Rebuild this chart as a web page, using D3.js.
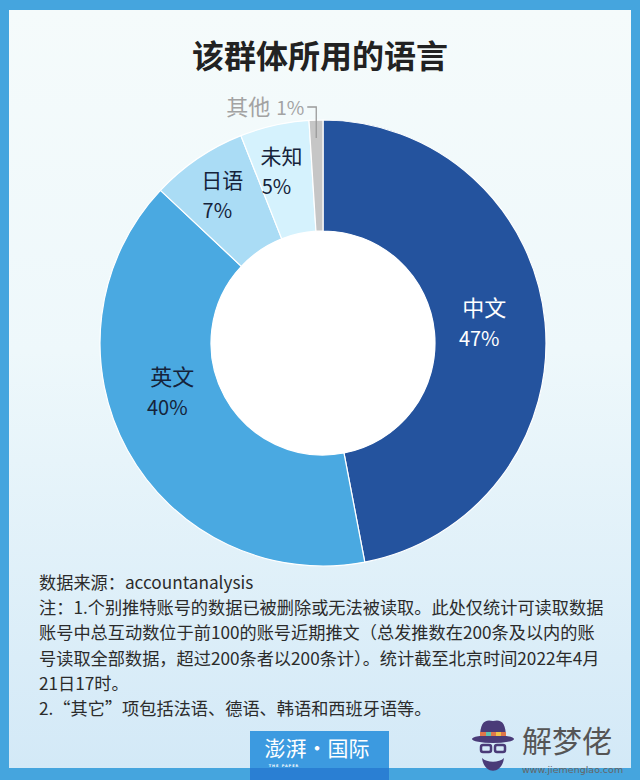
<!DOCTYPE html>
<html><head><meta charset="utf-8">
<script src="https://cdn.jsdelivr.net/npm/d3@7/dist/d3.min.js"></script>
<style>html,body{margin:0;padding:0;background:#fff;}svg{display:block;}</style>
</head><body>
<script>
const title = "该群体所用的语言";
const categories = ["中文", "英文", "日语", "未知", "其他"];
const values = [47, 40, 7, 5, 1];
const valueLabels = ["47%", "40%", "7%", "5%", "1%"];
const colors = ["#24539e", "#4aa9e1", "#aadcf5", "#d5f2fd", "#c6c6c6"];
const notes = [
  "数据来源：accountanalysis",
  "注：1.个别推特账号的数据已被删除或无法被读取。此处仅统计可读取数据",
  "账号中总互动数位于前100的账号近期推文（总发推数在200条及以内的账",
  "号读取全部数据，超过200条者以200条计）。统计截至北京时间2022年4月",
  "21日17时。",
  "2.“其它”项包括法语、德语、韩语和西班牙语等。"
];

const W = 640, H = 780;
const font = "'Noto Sans CJK SC','Noto Sans',sans-serif";
const svg = d3.select("body").append("svg").attr("width", W).attr("height", H);
const defs = svg.append("defs");
const g1 = defs.append("linearGradient").attr("id","bg").attr("x1",0).attr("y1",0).attr("x2",0).attr("y2",1);
g1.append("stop").attr("offset","0%").attr("stop-color","#f5fbfb");
g1.append("stop").attr("offset","45%").attr("stop-color","#eef8fb");
g1.append("stop").attr("offset","100%").attr("stop-color","#d3e9f7");

// frame
svg.append("rect").attr("width",W).attr("height",H).attr("fill","#45a5de");
svg.append("rect").attr("x",9).attr("y",10).attr("width",622).attr("height",758).attr("fill","url(#bg)");

// title
svg.append("text").attr("x",320).attr("y",68).attr("text-anchor","middle")
  .attr("font-family",font).attr("font-size",32).attr("font-weight",600).attr("fill","#222")
  .text(title);

// donut
const cx = 323, cy = 343, rOuter = 223, rInner = 112;
const data = categories.map((c,i)=>({cat:c, value:values[i], label:valueLabels[i], color:colors[i]}));
const pie = d3.pie().value(d=>d.value).sort(null).startAngle(0).endAngle(2*Math.PI);
const arcs = pie(data);
const arc = d3.arc().innerRadius(rInner).outerRadius(rOuter);
const gp = svg.append("g").attr("transform",`translate(${cx},${cy})`);
gp.selectAll("path").data(arcs).join("path")
  .attr("d",arc).attr("fill",d=>d.data.color)
  .attr("stroke","#ffffff").attr("stroke-width",1.2);
gp.append("circle").attr("r",rInner).attr("fill","#ffffff");

// labels
const labelArc = d3.arc().innerRadius(172).outerRadius(172);
const labelStyle = {
  "中文": {dx:-13, dy:-4, fill:"#ffffff", fs:22, ps:20},
  "英文": {dx:-3, dy:-34, fill:"#15233a", fs:22, ps:20},
  "日语": {dx:-7, dy:-6, fill:"#15233a", fs:21, ps:20},
  "未知": {dx:-7, dy:-4, fill:"#15233a", fs:21, ps:20}
};
arcs.forEach(a=>{
  const st = labelStyle[a.data.cat];
  if(!st) return;
  const [x,y] = labelArc.centroid(a);
  const t = gp.append("text").attr("font-family",font).attr("fill",st.fill).attr("text-anchor","middle");
  t.append("tspan").attr("x",x+st.dx+3).attr("y",y+st.dy-7).attr("font-size",st.fs).text(a.data.cat);
  t.append("tspan").attr("x",x+st.dx-2).attr("y",y+st.dy+23).attr("font-size",st.ps).text(a.data.label);
});

// "其他 1%" with leader
const other = arcs[arcs.length-1];
const oa = (other.startAngle+other.endAngle)/2;
const ox = Math.sin(oa)*(rOuter-8), oy = -Math.cos(oa)*(rOuter-8);
const ly = -236;
gp.append("path").attr("d",`M${ox-9},${ly} H${ox} V${oy+10}`)
  .attr("fill","none").attr("stroke","#9a9a9a").attr("stroke-width",1.3);
const ot = gp.append("text").attr("font-family",font).attr("fill","#a3a3a3").attr("text-anchor","end")
  .attr("x",ox-12).attr("y",ly+8);
ot.append("tspan").attr("font-size",22).text(other.data.cat);
ot.append("tspan").attr("font-size",19).attr("dx",6).text(other.data.label);

// notes
svg.append("g").selectAll("text").data(notes).join("text")
  .attr("x",39).attr("y",(d,i)=>589+i*25.2)
  .attr("font-family",font).attr("font-size",17.2).attr("fill","#2b2b2b")
  .text(d=>d);

// bottom logo box
svg.append("rect").attr("x",250).attr("y",731).attr("width",139).attr("height",49).attr("fill","#3c9ae0");
svg.append("rect").attr("x",250).attr("y",768).attr("width",139).attr("height",12).attr("fill","#2a7fd3");
svg.append("text").attr("x",317).attr("y",756).attr("text-anchor","middle")
  .attr("font-family",font).attr("font-size",21).attr("fill","#ffffff").text("澎湃·国际");
svg.append("text").attr("x",284).attr("y",766.5).attr("text-anchor","middle")
  .attr("font-family","'DejaVu Sans',sans-serif").attr("font-size",3.5).attr("font-weight",700)
  .attr("letter-spacing",1).attr("fill","#ffffff").text("THE PAPER");

// watermark
const wm = svg.append("g");
wm.append("path").attr("d","M480,738 C480,722 485,719 493,721 C501,719 506,722 506,738 Z").attr("fill","#4a3b78");
wm.append("ellipse").attr("cx",493).attr("cy",739).attr("rx",21).attr("ry",4).attr("fill","#4a3b78");
wm.append("rect").attr("x",480).attr("y",732).attr("width",26).attr("height",4).attr("fill","#e0774a");
wm.append("rect").attr("x",486).attr("y",732).attr("width",5).attr("height",4).attr("fill","#5fc2b0");
wm.append("rect").attr("x",496).attr("y",732).attr("width",5).attr("height",4).attr("fill","#f0c24a");
wm.append("rect").attr("x",481).attr("y",745).attr("width",10).attr("height",7).attr("rx",2).attr("fill","none").attr("stroke","#4a3b78").attr("stroke-width",2.5);
wm.append("rect").attr("x",495).attr("y",745).attr("width",10).attr("height",7).attr("rx",2).attr("fill","none").attr("stroke","#4a3b78").attr("stroke-width",2.5);
wm.append("path").attr("d","M482,758 C484,775 502,775 504,758 C499,763 487,763 482,758 Z").attr("fill","#4a3b78");
wm.append("text").attr("x",522).attr("y",752).attr("font-family",font).attr("font-size",30).attr("fill","#555").text("解梦佬");
wm.append("text").attr("x",522).attr("y",773).attr("font-family","'DejaVu Sans',sans-serif").attr("font-size",9.5).attr("fill","#666").text("www.jiemenglao.com");
</script>
</body></html>
